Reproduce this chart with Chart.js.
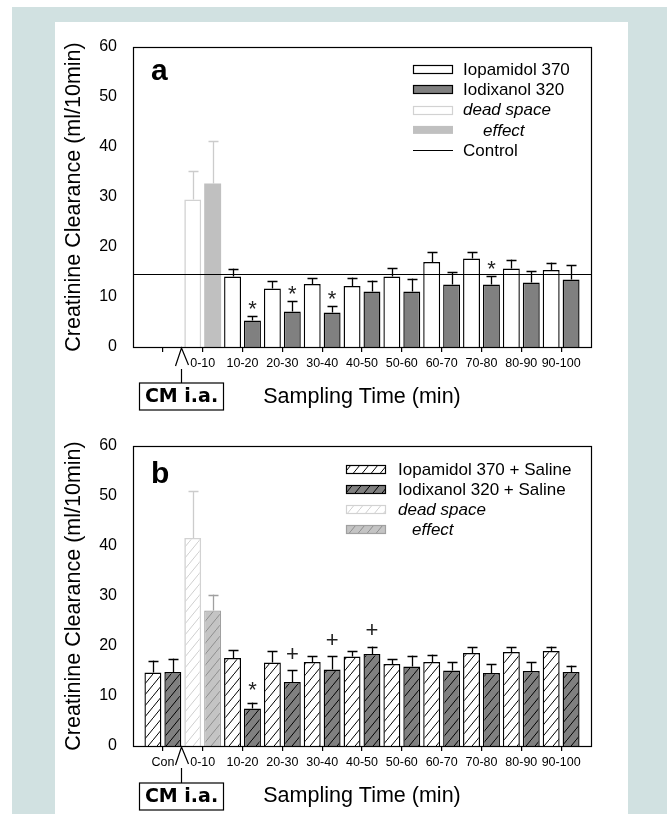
<!DOCTYPE html>
<html>
<head>
<meta charset="utf-8">
<script src="https://cdn.jsdelivr.net/npm/chart.js@4.4.0/dist/chart.umd.min.js"></script>
<style>
  html, body { margin: 0; padding: 0; background: #fff; }
  #page { position: relative; width: 667px; height: 814px; overflow: hidden; }
  #frame { position: absolute; left: 12px; top: 7px; width: 655px; height: 807px; background: #d1e1e1; }
  #panel { position: absolute; left: 55px; top: 22px; width: 573px; height: 792px; background: #fff; }
  canvas { position: absolute; left: 0; }
  #chartA { top: 0; }
  #chartB { top: 399px; }
</style>
</head>
<body>
<div id="page">
  <div id="frame"></div>
  <div id="panel"></div>
  <canvas id="chartA" width="667" height="415"></canvas>
  <canvas id="chartB" width="667" height="415"></canvas>
</div>
<script>
const SANS = '"Liberation Sans", Arial, sans-serif';

// sampling periods (Con = control period before contrast medium)
const timeLabels = ['Con', '0-10', '10-20', '20-30', '30-40', '40-50', '50-60', '60-70', '70-80', '80-90', '90-100'];
const yTicks = [0, 10, 20, 30, 40, 50, 60];

// panel a: contrast medium alone
const iopamidolA    = [null, null, 14.1, 11.7, 12.6, 12.2, 14.1, 17.0, 17.7, 15.7, 15.4];
const iopamidolErrA = [null, null, 1.6, 1.5, 1.2, 1.7, 1.7, 2.0, 1.3, 1.8, 1.5];
const iodixanolA    = [null, null, 5.3, 7.1, 6.9, 11.1, 11.1, 12.5, 12.5, 12.9, 13.5];
const iodixanolErrA = [null, null, 0.9, 2.1, 1.3, 2.2, 2.6, 2.5, 1.7, 2.3, 2.9];
const deadSpaceA    = [null, 29.5, null, null, null, null, null, null, null, null, null];
const deadSpaceErrA = [null, 5.7, null, null, null, null, null, null, null, null, null];
const effectA       = [null, 32.7, null, null, null, null, null, null, null, null, null];
const effectErrA    = [null, 8.5, null, null, null, null, null, null, null, null, null];
const iodixanolMarksA = ['', '', '*', '*', '*', '', '', '', '*', '', ''];
const controlA = 14.6;

// panel b: contrast medium + saline
const iopamidolB    = [14.7, null, 17.6, 16.7, 16.8, 17.9, 16.4, 16.8, 18.6, 18.8, 19.0];
const iopamidolErrB = [2.4, null, 1.6, 2.3, 1.2, 1.1, 1.0, 1.5, 1.2, 1.0, 0.9];
const iodixanolB    = [14.8, null, 7.5, 12.8, 15.3, 18.4, 15.9, 15.1, 14.6, 15.0, 14.8];
const iodixanolErrB = [2.7, null, 1.2, 2.4, 2.7, 1.5, 2.2, 1.7, 1.8, 1.8, 1.3];
const deadSpaceB    = [null, 41.6, null, null, null, null, null, null, null, null, null];
const deadSpaceErrB = [null, 9.3, null, null, null, null, null, null, null, null, null];
const effectB       = [null, 27.1, null, null, null, null, null, null, null, null, null];
const effectErrB    = [null, 3.2, null, null, null, null, null, null, null, null, null];
const iodixanolMarksB = ['', '', '*', '+', '+', '+', '', '', '', '', ''];

// injection of contrast medium sits between Con and 0-10
const injectionAt = 0.45;

function barData(values) {
  return values.map((v, i) => ({x: i, y: v}));
}

function hatch(bg, line) {
  const tile = document.createElement('canvas');
  tile.width = 9;
  tile.height = 11;
  const c = tile.getContext('2d');
  c.fillStyle = bg;
  c.fillRect(0, 0, 9, 11);
  c.strokeStyle = line;
  c.lineWidth = 1;
  c.beginPath();
  c.moveTo(-1, 12.22);
  c.lineTo(10, -1.22);
  c.stroke();
  return c.createPattern(tile, 'repeat');
}

const hatchWhite = hatch('#ffffff', '#000000');
const hatchGray = hatch('#808080', '#000000');
const hatchDead = hatch('#ffffff', '#cfcfcf');
const hatchEffect = hatch('#c4c4c4', '#8f8f8f');

function figureExtras(spec) {
  return {
    id: 'figureExtras',
    afterDatasetsDraw(chart) {
      const {ctx, chartArea: area, scales: {y}} = chart;
      ctx.save();

      if (spec.control != null) {
        const yc = Math.round(y.getPixelForValue(spec.control)) + 0.5;
        ctx.strokeStyle = '#000';
        ctx.lineWidth = 1.2;
        ctx.beginPath();
        ctx.moveTo(area.left, yc);
        ctx.lineTo(area.right, yc);
        ctx.stroke();
      }

      chart.data.datasets.forEach((ds, i) => {
        const meta = chart.getDatasetMeta(i);
        ds.data.forEach((pt, j) => {
          const err = ds.errors[j];
          if (pt.y == null || err == null) return;
          const bar = meta.data[j];
          const top = y.getPixelForValue(pt.y + err);
          const cx = Math.round(bar.x) + 0.5;
          ctx.strokeStyle = ds.whisker;
          ctx.lineWidth = 1.3;
          ctx.beginPath();
          ctx.moveTo(cx, bar.y);
          ctx.lineTo(cx, top);
          ctx.moveTo(cx - 5, Math.round(top) + 0.5);
          ctx.lineTo(cx + 5, Math.round(top) + 0.5);
          ctx.stroke();

          const mark = ds.marks && ds.marks[j];
          if (mark) {
            ctx.font = '22px ' + SANS;
            ctx.fillStyle = '#222';
            ctx.textAlign = 'center';
            ctx.textBaseline = 'alphabetic';
            const m = ctx.measureText(mark);
            const mid = (m.actualBoundingBoxAscent - m.actualBoundingBoxDescent) / 2;
            ctx.fillText(mark, bar.x, top - spec.markGap + mid);
          }
        });
      });

      ctx.strokeStyle = '#000';
      ctx.lineWidth = 1.2;
      ctx.strokeRect(Math.round(area.left) + 0.5, Math.round(area.top) + 0.5,
        Math.round(area.right - area.left), Math.round(area.bottom - area.top));
      ctx.restore();
    },
    afterDraw(chart) {
      const {ctx, chartArea: area, scales: {x}} = chart;
      ctx.save();

      // panel letter
      ctx.font = 'bold 30px ' + SANS;
      ctx.fillStyle = '#000';
      ctx.textAlign = 'left';
      ctx.textBaseline = 'alphabetic';
      ctx.fillText(spec.letter, area.left + 18, area.top + spec.letterDrop);

      // legend
      const lg = spec.legend;
      lg.items.forEach((it, k) => {
        const cy = area.top + lg.top + k * lg.step;
        const bx = area.left + lg.left;
        if (it.line) {
          ctx.strokeStyle = '#000';
          ctx.lineWidth = 1.2;
          ctx.beginPath();
          ctx.moveTo(bx, Math.round(cy) + 0.5);
          ctx.lineTo(bx + 40, Math.round(cy) + 0.5);
          ctx.stroke();
        } else {
          ctx.fillStyle = it.fill;
          ctx.fillRect(bx, cy - 4, 40, 8);
          if (it.stroke) {
            ctx.strokeStyle = it.stroke;
            ctx.lineWidth = 1.2;
            ctx.strokeRect(bx + 0.5, Math.round(cy - 4) + 0.5, 39, 8);
          }
        }
        ctx.font = (it.italic ? 'italic ' : '') + '17px ' + SANS;
        ctx.fillStyle = '#000';
        ctx.textBaseline = 'middle';
        ctx.fillText(it.label, bx + lg.textGap + (it.indent || 0), cy + 1);
      });

      // contrast medium injection marker
      const ix = Math.round(x.getPixelForValue(injectionAt)) + 0.5;
      const b = area.bottom;
      ctx.strokeStyle = '#000';
      ctx.lineWidth = 1.2;
      ctx.beginPath();
      ctx.moveTo(ix - 6, b + 19);
      ctx.lineTo(ix, b + 1);
      ctx.lineTo(ix + 7, b + 18);
      ctx.moveTo(ix, b + 22);
      ctx.lineTo(ix, b + spec.boxDrop);
      ctx.stroke();
      ctx.strokeRect(ix - 42, b + spec.boxDrop, 84, 27);
      ctx.font = 'bold 19px "DejaVu Sans", Verdana, sans-serif';
      ctx.textAlign = 'center';
      ctx.textBaseline = 'middle';
      ctx.fillText('CM i.a.', ix, b + spec.boxDrop + 14.5);
      ctx.restore();
    }
  };
}

function makeChart(canvasId, datasets, spec) {
  const ctx = document.getElementById(canvasId).getContext('2d');
  return new Chart(ctx, {
    type: 'bar',
    data: {datasets: datasets},
    options: {
      responsive: false,
      animation: false,
      layout: {padding: {left: 50, right: 76, top: 47, bottom: 3}},
      datasets: {
        bar: {categoryPercentage: 1.0, barPercentage: 0.85}
      },
      plugins: {
        legend: {display: false},
        tooltip: {enabled: false}
      },
      scales: {
        x: {
          type: 'linear',
          min: -0.75,
          max: 10.75,
          offset: false,
          afterBuildTicks: (scale) => {
            scale.ticks = timeLabels.map((_, i) => ({value: i}));
          },
          afterFit: (scale) => { scale.height = 65; },
          grid: {display: true, offset: false, drawOnChartArea: false, drawTicks: true, tickLength: 5, color: '#000', lineWidth: 1.2},
          border: {display: false},
          ticks: {
            autoSkip: false,
            maxRotation: 0,
            padding: 4,
            color: '#000',
            font: {family: SANS, size: 12.5},
            callback: (v) => (spec.hideCon && v === 0) ? '' : timeLabels[v]
          },
          title: {
            display: true,
            text: 'Sampling Time (min)',
            color: '#000',
            font: {family: SANS, size: 21.5},
            padding: {top: 0, bottom: 2}
          }
        },
        y: {
          min: 0,
          max: 60,
          stacked: false,
          afterBuildTicks: (scale) => {
            scale.ticks = yTicks.map(v => ({value: v}));
          },
          afterFit: (scale) => { scale.width = 83; },
          grid: {display: false, drawTicks: false},
          border: {display: false},
          ticks: {
            padding: 16,
            color: '#000',
            font: {family: SANS, size: 16}
          },
          title: {
            display: true,
            text: 'Creatinine Clearance (ml/10min)',
            color: '#000',
            font: {family: SANS, size: 21.5},
            padding: {top: 11, bottom: 0}
          }
        }
      }
    },
    plugins: [figureExtras(spec)]
  });
}

makeChart('chartA', [
  {label: 'Iopamidol 370', data: barData(iopamidolA), errors: iopamidolErrA, stack: 'left',
   backgroundColor: '#ffffff', borderColor: '#000', borderWidth: 1.4, whisker: '#000'},
  {label: 'Iodixanol 320', data: barData(iodixanolA), errors: iodixanolErrA, marks: iodixanolMarksA, stack: 'right',
   backgroundColor: '#808080', borderColor: '#000', borderWidth: 1.4, whisker: '#000'},
  {label: 'dead space', data: barData(deadSpaceA), errors: deadSpaceErrA, stack: 'left',
   backgroundColor: '#ffffff', borderColor: '#d2d2d2', borderWidth: 1.6, whisker: '#cccccc'},
  {label: 'effect', data: barData(effectA), errors: effectErrA, stack: 'right',
   backgroundColor: '#c0c0c0', borderWidth: 0, whisker: '#cccccc'}
], {
  letter: 'a',
  letterDrop: 33,
  hideCon: true,
  control: controlA,
  markGap: 11,
  boxDrop: 36,
  legend: {
    left: 280, top: 22, step: 20.3, textGap: 50,
    items: [
      {label: 'Iopamidol 370', fill: '#ffffff', stroke: '#000'},
      {label: 'Iodixanol 320', fill: '#808080', stroke: '#000'},
      {label: 'dead space', fill: '#ffffff', stroke: '#d2d2d2', italic: true},
      {label: 'effect', fill: '#c0c0c0', italic: true, indent: 20},
      {label: 'Control', line: true}
    ]
  }
});

makeChart('chartB', [
  {label: 'Iopamidol 370 + Saline', data: barData(iopamidolB), errors: iopamidolErrB, stack: 'left',
   backgroundColor: hatchWhite, borderColor: '#000', borderWidth: 1.4, whisker: '#000'},
  {label: 'Iodixanol 320 + Saline', data: barData(iodixanolB), errors: iodixanolErrB, marks: iodixanolMarksB, stack: 'right',
   backgroundColor: hatchGray, borderColor: '#000', borderWidth: 1.4, whisker: '#000'},
  {label: 'dead space', data: barData(deadSpaceB), errors: deadSpaceErrB, stack: 'left',
   backgroundColor: hatchDead, borderColor: '#d2d2d2', borderWidth: 1.6, whisker: '#cccccc'},
  {label: 'effect', data: barData(effectB), errors: effectErrB, stack: 'right',
   backgroundColor: hatchEffect, borderColor: '#a0a0a0', borderWidth: 1.2, whisker: '#a0a0a0'}
], {
  letter: 'b',
  letterDrop: 37,
  hideCon: false,
  control: null,
  markGap: 17,
  boxDrop: 37,
  legend: {
    left: 213, top: 23, step: 20, textGap: 52,
    items: [
      {label: 'Iopamidol 370 + Saline', fill: hatchWhite, stroke: '#000'},
      {label: 'Iodixanol 320 + Saline', fill: hatchGray, stroke: '#000'},
      {label: 'dead space', fill: hatchDead, stroke: '#d2d2d2', italic: true},
      {label: 'effect', fill: hatchEffect, stroke: '#a0a0a0', italic: true, indent: 14}
    ]
  }
});
</script>
</body>
</html>
